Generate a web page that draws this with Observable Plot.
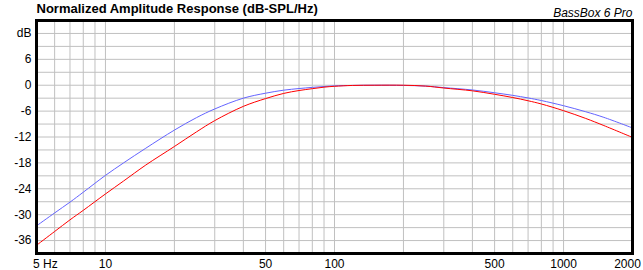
<!DOCTYPE html>
<html>
<head>
<meta charset="utf-8">
<script src="https://cdn.jsdelivr.net/npm/d3@7"></script>
<script src="https://cdn.jsdelivr.net/npm/@observablehq/plot@0.6"></script>
<style>
  html, body { margin: 0; padding: 0; background: #fff; }
</style>
</head>
<body>
<div id="chart"></div>
<script>
const title = "Normalized Amplitude Response (dB-SPL/Hz)";
const brand = "BassBox 6 Pro";

const freqs = [5, 6, 7, 8, 10, 12, 15, 20, 25, 30, 40, 50, 60, 70, 80, 90, 100, 120, 150, 200, 250, 300, 400, 500, 600, 700, 800, 1000, 1250, 1500, 2000];
const blueDb = [-32.6, -29.6, -27.1, -24.8, -20.9, -18.0, -14.6, -10.4, -7.5, -5.5, -3.0, -1.85, -1.15, -0.77, -0.5, -0.3, -0.15, -0.05, 0, -0.05, -0.2, -0.55, -1.1, -1.75, -2.35, -2.95, -3.55, -4.75, -6.15, -7.45, -9.9];
const redDb = [-37.1, -33.9, -31.2, -29.0, -25.2, -22.2, -18.5, -14.2, -10.8, -8.2, -4.9, -3.1, -1.9, -1.23, -0.8, -0.45, -0.25, -0.05, 0, 0, -0.2, -0.65, -1.3, -2.1, -2.85, -3.6, -4.35, -5.9, -7.7, -9.35, -12.1];

const xTicks = [5, 10, 50, 100, 500, 1000, 2000];
const xTickLabels = ["5 Hz", "10", "50", "100", "500", "1000", "2000"];
const yTicks = [12, 6, 0, -6, -12, -18, -24, -30, -36];
const yTickLabels = ["dB", "6", "0", "-6", "-12", "-18", "-24", "-30", "-36"];
const xGrid = [6, 7, 8, 9, 10, 20, 30, 40, 50, 60, 70, 80, 90, 100, 200, 300, 400, 500, 600, 700, 800, 900, 1000];
const yGrid = [12, 9, 6, 3, 0, -3, -6, -9, -12, -15, -18, -21, -24, -27, -30, -33, -36];

const blue = freqs.map((f, i) => ({f, db: blueDb[i]}));
const red = freqs.map((f, i) => ({f, db: redDb[i]}));
const xLab = xTicks.map((t, i) => ({t, label: xTickLabels[i]}));

const yLabel = d => yTickLabels[yTicks.indexOf(d)];

const chart = Plot.plot({
  width: 643,
  height: 270,
  marginTop: 20,
  marginBottom: 17,
  marginLeft: 36,
  marginRight: 11,
  style: {fontFamily: "'Liberation Sans', Arial, sans-serif", fontSize: "12px", color: "#000", background: "#fff"},
  x: {type: "log", domain: [5, 2000], axis: null},
  y: {domain: [-39, 15]},
  marks: [
    Plot.ruleX(xGrid, {stroke: "#c0c0c0", strokeWidth: 1}),
    Plot.ruleY(yGrid, {stroke: "#c0c0c0", strokeWidth: 1}),
    Plot.line(blue, {x: "f", y: "db", stroke: "#6464ff", strokeWidth: 1, curve: "catmull-rom"}),
    Plot.line(red, {x: "f", y: "db", stroke: "#ff0000", strokeWidth: 1, curve: "catmull-rom"}),
    Plot.frame({stroke: "#000", strokeWidth: 3}),
    Plot.axisY(yTicks, {tickSize: 0, tickPadding: 5, tickFormat: yLabel, label: null, fill: "#000"}),
    Plot.text(xLab.filter(d => d.t === 5), {x: "t", text: "label", frameAnchor: "bottom", lineAnchor: "top", dy: 6, dx: -3.5, textAnchor: "start", fill: "#000"}),
    Plot.text(xLab.filter(d => d.t > 5 && d.t < 2000), {x: "t", text: "label", frameAnchor: "bottom", lineAnchor: "top", dy: 6, textAnchor: "middle", fill: "#000"}),
    Plot.text(xLab.filter(d => d.t === 2000), {x: "t", text: "label", frameAnchor: "bottom", lineAnchor: "top", dy: 6, dx: -5, textAnchor: "middle", fill: "#000"}),
    Plot.text([title], {frameAnchor: "top-left", text: d => d, dy: -7.5, textAnchor: "start", lineAnchor: "bottom", fontWeight: "bold", fontSize: 13, fill: "#000"}),
    Plot.text([brand], {frameAnchor: "top-right", text: d => d, dy: -4, textAnchor: "end", lineAnchor: "bottom", fontStyle: "italic", fontSize: 12, fill: "#000"})
  ]
});
document.getElementById("chart").appendChild(chart);
</script>
</body>
</html>
